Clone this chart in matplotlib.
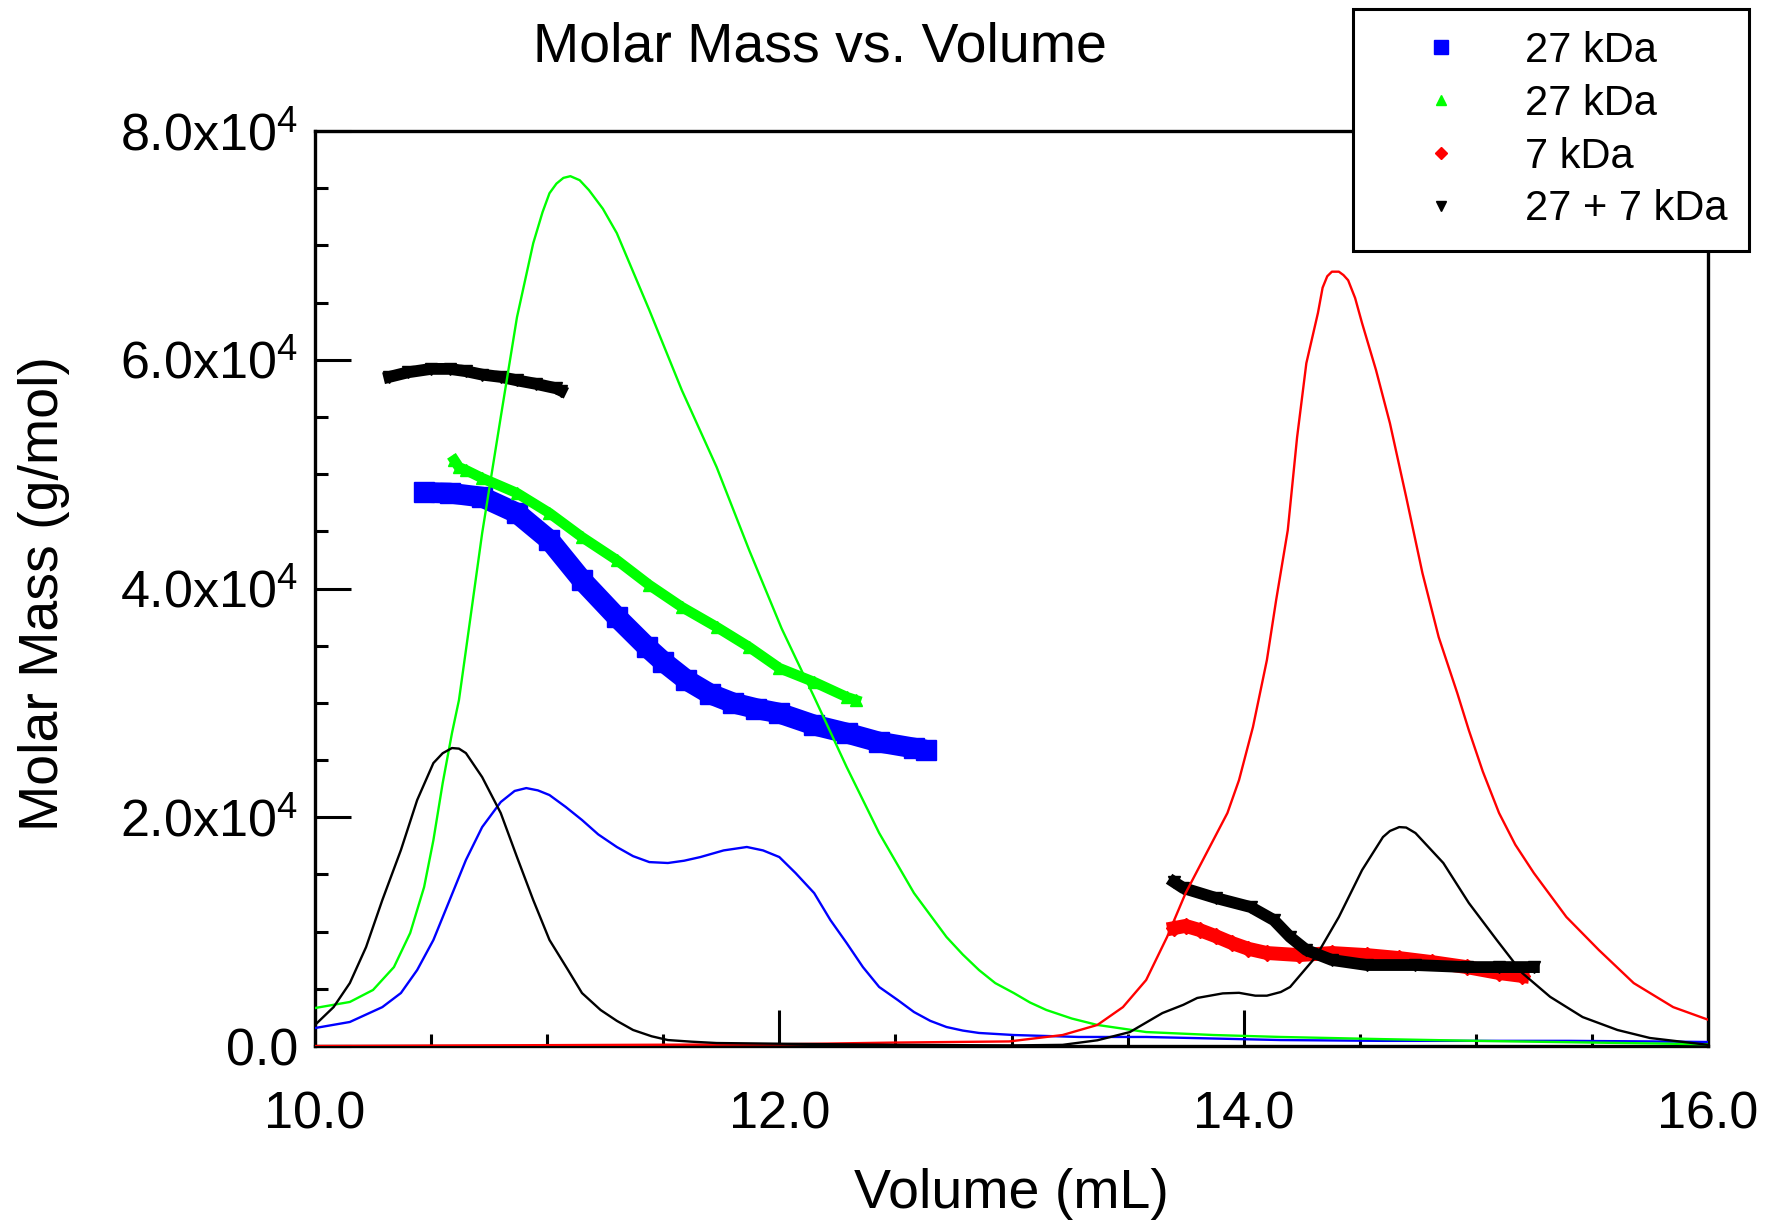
"""Molar mass vs. elution volume for the 27 kDa, 7 kDa and mixed samples."""
import matplotlib
matplotlib.use('Agg')
import matplotlib.pyplot as plt
from matplotlib.lines import Line2D
from matplotlib.ticker import MultipleLocator

plt.rcParams['font.family'] = ['Liberation Sans', 'DejaVu Sans']
plt.rcParams['mathtext.fontset'] = 'custom'
plt.rcParams['mathtext.rm'] = 'Liberation Sans'
plt.rcParams['mathtext.default'] = 'rm'

# detector traces (scaled onto the molar mass axis)
vol_27a = [10.00, 10.15, 10.29, 10.37, 10.44, 10.51, 10.58, 10.65, 10.72, 10.80,
           10.86, 10.91, 10.96, 11.01, 11.08, 11.15, 11.22, 11.30, 11.37, 11.44,
           11.52, 11.59, 11.66, 11.76, 11.86, 11.93, 12.00, 12.07, 12.15, 12.22,
           12.29, 12.36, 12.43, 12.51, 12.58, 12.65, 12.72, 12.79, 12.86, 13.01,
           13.29, 13.58, 14.16, 14.60, 15.00, 15.40, 15.75, 16.00]
sig_27a = [1570, 2100, 3400, 4630, 6640, 9270, 12760, 16260, 19140, 21330,
           22300, 22550, 22350, 21940, 20900, 19760, 18500, 17400, 16600, 16080,
           16000, 16200, 16520, 17100, 17400, 17100, 16520, 15120, 13370, 11010,
           9000, 6900, 5160, 4020, 2970, 2200, 1660, 1350, 1140, 960,
           790, 790, 520, 450, 450, 450, 400, 350]

vol_27b = [10.00, 10.15, 10.25, 10.34, 10.41, 10.47, 10.51, 10.55, 10.59, 10.62,
           10.65, 10.72, 10.80, 10.87, 10.94, 10.98, 11.01, 11.04, 11.07, 11.10,
           11.14, 11.18, 11.24, 11.30, 11.44, 11.58, 11.73, 11.87, 12.01, 12.15,
           12.29, 12.43, 12.58, 12.72, 12.79, 12.86, 12.93, 13.01, 13.08, 13.15,
           13.26, 13.37, 13.58, 13.87, 14.16, 14.60, 15.00, 15.50, 16.00]
sig_27b = [3320, 3850, 4900, 6900, 9880, 13900, 18000, 22990, 27360, 30240,
           34600, 44840, 54980, 63720, 70190, 72900, 74560, 75400, 75900, 76050,
           75700, 74830, 73200, 71070, 64340, 57340, 50610, 43360, 36500, 30510,
           24390, 18620, 13370, 9530, 8000, 6640, 5500, 4630, 3800, 3150,
           2400, 1840, 1220, 960, 790, 600, 450, 300, 150]

vol_7 = [10.00, 12.00, 12.50, 12.99, 13.22, 13.37, 13.48, 13.58, 13.67, 13.75,
         13.84, 13.93, 13.98, 14.04, 14.10, 14.14, 14.19, 14.23, 14.27, 14.32,
         14.34, 14.36, 14.38, 14.41, 14.43, 14.45, 14.48, 14.51, 14.57, 14.63,
         14.70, 14.77, 14.84, 14.92, 14.97, 15.03, 15.10, 15.17, 15.25, 15.39,
         15.53, 15.68, 15.85, 16.00]
sig_7 = [0, 150, 300, 400, 960, 1840, 3400, 5770, 9530, 13370,
         16870, 20370, 23250, 27890, 33740, 39000, 45100, 53200, 59700, 64100,
         66300, 67300, 67700, 67700, 67400, 66950, 65400, 63200, 59100, 54450,
         48000, 41350, 35750, 30860, 27600, 24000, 20370, 17600, 15120, 11280,
         8390, 5500, 3400, 2300]

vol_mix = [10.00, 10.08, 10.15, 10.22, 10.29, 10.37, 10.44, 10.51, 10.55, 10.59,
           10.62, 10.65, 10.72, 10.80, 10.87, 10.94, 11.01, 11.09, 11.15, 11.23,
           11.30, 11.37, 11.45, 11.52, 11.62, 11.73, 12.00, 12.50, 13.00, 13.22,
           13.37, 13.51, 13.65, 13.74, 13.80, 13.91, 13.98, 14.05, 14.10, 14.16,
           14.20, 14.31, 14.41, 14.51, 14.60, 14.63, 14.67, 14.70, 14.74, 14.86,
           14.97, 15.09, 15.20, 15.32, 15.46, 15.61, 15.75, 16.00]
sig_mix = [1840, 3400, 5500, 8650, 12760, 17130, 21500, 24740, 25600, 26050,
           26000, 25610, 23510, 20370, 16520, 12760, 9270, 6640, 4630, 3150,
           2200, 1400, 850, 520, 380, 260, 200, 100, 50, 100,
           500, 1220, 2880, 3600, 4200, 4600, 4650, 4400, 4400, 4720,
           5160, 7780, 11280, 15380, 18270, 18800, 19140, 19100, 18620, 16000,
           12500, 9270, 6380, 4300, 2530, 1400, 700, 100]

# molar mass points (g/mol)
mm_vol_27a = [10.47, 10.58, 10.72, 10.87, 11.01, 11.15, 11.30, 11.43, 11.50, 11.60,
              11.70, 11.80, 11.90, 12.00, 12.15, 12.29, 12.43, 12.58, 12.63]
mm_27a = [48400, 48340, 47990, 46590, 44230, 40730, 37500, 34880, 33600, 32000,
          30800, 30000, 29500, 29100, 28060, 27360, 26570, 26050, 25870]

mm_vol_27b = [10.60, 10.62, 10.65, 10.72, 10.87, 11.01, 11.15, 11.30, 11.44, 11.58,
              11.73, 11.87, 12.00, 12.15, 12.29, 12.33]
mm_27b = [51220, 50600, 50350, 49650, 48340, 46590, 44490, 42480, 40300, 38380,
          36630, 34880, 33040, 31820, 30510, 30240]

mm_vol_7 = [13.70, 13.75, 13.81, 13.88, 13.95, 14.02, 14.10, 14.24, 14.38, 14.53,
            14.67, 14.81, 14.96, 15.10, 15.20]
mm_7 = [10310, 10500, 10140, 9600, 9000, 8500, 8130, 7950, 8130, 7950,
        7690, 7340, 6900, 6380, 6120]

mm_vol_mix_hi = [10.32, 10.40, 10.50, 10.58, 10.65, 10.72, 10.80, 10.87, 10.95, 11.04, 11.06]
mm_mix_hi = [58500, 58900, 59200, 59200, 59000, 58700, 58500, 58200, 57900, 57500, 57300]

mm_vol_mix_lo = [13.70, 13.74, 13.88, 14.03, 14.13, 14.20, 14.27, 14.38, 14.53, 14.74,
                 14.96, 15.10, 15.25]
mm_mix_lo = [14340, 13810, 12940, 12150, 11010, 9530, 8390, 7520, 7080, 7080,
             6900, 6900, 6900]

labels = ['27 kDa', '27 kDa', '7 kDa', '27 + 7 kDa']
colors = ['#0000FF', '#00FF00', '#FF0000', '#000000']

xticks = [10.0, 12.0, 14.0, 16.0]
yticks = [0, 20000, 40000, 60000, 80000]
ytick_labels = ['0.0', '2.0x10$^4$', '4.0x10$^4$', '6.0x10$^4$', '8.0x10$^4$']

W, H = 1771, 1222
fig = plt.figure(figsize=(W / 100, H / 100), dpi=100)
ax = fig.add_axes([315 / W, 1 - 1046 / H, (1708 - 315) / W, (1046 - 131) / H])

# molar mass bands (dense markers)
ax.plot(mm_vol_27a, mm_27a, color=colors[0], lw=15, marker='s', ms=15,
        solid_capstyle='butt', zorder=2)
ax.plot(mm_vol_27b, mm_27b, color=colors[1], lw=7.5, marker='^', ms=8, zorder=2)
ax.plot(mm_vol_7, mm_7, color=colors[2], lw=10, marker='D', ms=8, zorder=2)
ax.plot(mm_vol_mix_hi, mm_mix_hi, color=colors[3], lw=8.5, marker='v', ms=8, zorder=2)
ax.plot(mm_vol_mix_lo, mm_mix_lo, color=colors[3], lw=8.5, marker='v', ms=8, zorder=2)

# detector traces
ax.plot(vol_27a, sig_27a, color=colors[0], lw=1.7, zorder=3)
ax.plot(vol_27b, sig_27b, color=colors[1], lw=1.7, zorder=3)
ax.plot(vol_7, sig_7, color=colors[2], lw=1.7, zorder=3)
ax.plot(vol_mix, sig_mix, color=colors[3], lw=1.7, zorder=3)

ax.set_xlim(10, 16)
ax.set_ylim(0, 80000)
ax.set_xticks(xticks)
ax.set_xticklabels(['%.1f' % v for v in xticks])
ax.set_yticks(yticks)
ax.set_yticklabels(ytick_labels)
ax.xaxis.set_minor_locator(MultipleLocator(0.5))
ax.yaxis.set_minor_locator(MultipleLocator(5000))
ax.tick_params(which='both', direction='in', width=2.2, top=False, right=False)
ax.tick_params(which='major', length=26, labelsize=37.5)
ax.tick_params(axis='x', which='major', pad=32)
ax.tick_params(axis='y', which='major', pad=12)
ax.tick_params(which='minor', length=9)
for sp in ax.spines.values():
    sp.set_linewidth(2.4)

ax.set_xlabel('Volume (mL)', fontsize=40)
ax.xaxis.set_label_coords(0.5, -0.133)
ax.set_ylabel('Molar Mass (g/mol)', fontsize=40)
ax.yaxis.set_label_coords(-0.176, 0.494)

fig.text(820 / W, 1 - 48 / H, 'Molar Mass vs. Volume', fontsize=40,
         ha='center', va='center')

handles = [
    Line2D([], [], ls='none', marker='s', ms=9.5, color=colors[0]),
    Line2D([], [], ls='none', marker='^', ms=7, color=colors[1]),
    Line2D([], [], ls='none', marker='D', ms=6.5, color=colors[2]),
    Line2D([], [], ls='none', marker='v', ms=7, color=colors[3]),
]
leg = fig.legend(handles, labels, loc='upper left',
                 bbox_to_anchor=(1353 / W, 1 - 9 / H), fontsize=30,
                 frameon=True, fancybox=False, edgecolor='black', framealpha=1,
                 borderpad=0.52, labelspacing=0.31, handlelength=3.2,
                 handletextpad=0.41, borderaxespad=0)
leg.get_frame().set_linewidth(2.2)

fig.savefig('out.png', dpi=100)
